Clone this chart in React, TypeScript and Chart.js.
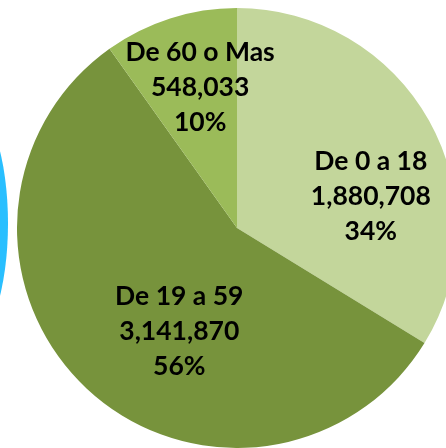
import React, { useEffect, useRef } from "react";
import { Chart, registerables } from "chart.js";

Chart.register(...registerables);

const categories = ["De 0 a 18", "De 19 a 59", "De 60 o Mas"];
const values = [1880708, 3141870, 548033];
const percentLabels = ["34%", "56%", "10%"];
const colors = ["#c3d69b", "#77933c", "#9bbb59"];

// label placement: radius fraction and angle offset (deg) from slice middle
const labelPlacement = [
  { r: 0.625, da: 16 },
  { r: 0.54, da: -14 },
  { r: 0.66, da: 3 },
];

const fmt = (n: number) => n.toLocaleString("en-US");

const labelPlugin = {
  id: "sliceLabels",
  afterDatasetsDraw(chart: any) {
    const ctx = chart.ctx;
    const meta = chart.getDatasetMeta(0);
    ctx.save();
    ctx.font = "bold 26.5px Lato";
    ctx.fillStyle = "#000000";
    ctx.textAlign = "center";
    ctx.textBaseline = "middle";
    meta.data.forEach((arc: any, i: number) => {
      const p = arc.getProps(["x", "y", "startAngle", "endAngle", "outerRadius"], true);
      const mid = (p.startAngle + p.endAngle) / 2 + (labelPlacement[i].da * Math.PI) / 180;
      const rr = p.outerRadius * labelPlacement[i].r;
      const cx = p.x + Math.cos(mid) * rr;
      const cy = p.y + Math.sin(mid) * rr;
      const lines = [categories[i], fmt(values[i]), percentLabels[i]];
      const lh = 35;
      lines.forEach((t, k) => {
        ctx.fillText(t, cx, cy + (k - 1) * lh);
      });
    });
    ctx.restore();
  },
};

export default function App() {
  const ref = useRef<HTMLCanvasElement>(null);
  useEffect(() => {
    if (!ref.current) return;
    const chart = new Chart(ref.current, {
      type: "pie",
      data: {
        labels: categories,
        datasets: [
          {
            data: values,
            backgroundColor: colors,
            borderWidth: 0,
            hoverOffset: 0,
          },
        ],
      },
      options: {
        responsive: false,
        animation: false,
        devicePixelRatio: 1,
        layout: { padding: 0 },
        plugins: {
          legend: { display: false },
          tooltip: { enabled: false },
        },
      },
      plugins: [labelPlugin],
    });
    return () => chart.destroy();
  }, []);

  return (
    <div
      style={{
        position: "fixed",
        left: 0,
        top: 0,
        width: 446,
        height: 448,
        overflow: "hidden",
        background: "#ffffff",
      }}
    >
      <div
        style={{
          position: "absolute",
          left: -72,
          top: 103,
          width: 80,
          height: 241,
          borderRadius: "50%",
          background: "#29bfff",
        }}
      />
      <canvas
        ref={ref}
        width={440}
        height={440}
        style={{ position: "absolute", left: 17, top: 8, width: 440, height: 440 }}
      />
    </div>
  );
}
